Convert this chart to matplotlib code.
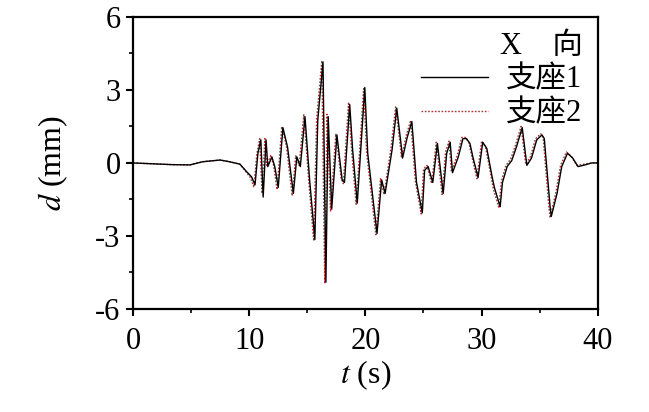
import matplotlib
matplotlib.use("Agg")
import matplotlib.pyplot as plt
from matplotlib import ticker

plt.rcParams['font.family'] = ['Liberation Serif', 'Noto Sans CJK SC']
plt.rcParams['mathtext.fontset'] = 'stix'

# support 1 (solid black)
t1 = [0, 3.4, 4.9, 6.0, 7.5, 8.3, 9.2, 9.8, 10.2, 10.5, 10.75, 11.0, 11.2, 11.45, 11.6,
      11.95, 12.2, 12.5, 12.9, 13.3, 13.8, 14.1, 14.4, 14.8, 15.2, 15.65, 15.9, 16.35, 16.6,
      16.8, 17.1, 17.55, 18.0, 18.2, 18.65, 18.9, 19.3, 19.95, 20.2, 21.0, 21.4, 21.7, 22.3,
      22.7, 23.1, 23.2, 23.6, 24.0, 24.4, 24.9, 25.1, 25.4, 25.8, 26.2, 26.7, 27.0, 27.3,
      27.5, 28.0, 28.4, 28.7, 29.0, 29.25, 29.7, 30.1, 30.45, 30.9, 31.1, 31.6, 31.8, 32.2,
      32.6, 33.0, 33.5, 33.9, 34.3, 34.75, 35.2, 35.4, 35.9, 36.0, 36.5, 36.9, 37.4, 37.85,
      38.3, 38.9, 39.5, 40]
d1 = [0, -0.07, -0.08, 0.05, 0.12, 0.05, -0.05, -0.37, -0.57, -0.9, 0.4, 0.95, -1.4, 0.95,
      -0.15, 0.25, -0.15, -1.0, 1.45, 0.65, -1.25, 0.25, -0.15, 1.9, -0.7, -3.15, 1.75, 4.15,
      -4.9, 1.9, -1.9, 1.15, -0.7, -0.8, 2.4, 0.55, -1.65, 3.1, 0.4, -2.9, -0.7, -1.25, 0.55,
      2.25, 0.65, 0.2, 1.05, 1.7, -0.8, -2.05, -0.3, -0.15, -0.8, 0.8, -1.25, 0.4, 0.85,
      -0.4, 0.25, 1.0, 1.0, 0.8, 0.25, -0.6, 0.85, 0.6, -0.55, -1.0, -1.8, -0.8, -0.15,
      0.1, 0.65, 1.45, -0.1, 0.2, 0.95, 1.15, 1.0, -1.8, -2.2, -1.25, -0.15, 0.4, 0.2,
      -0.15, -0.08, 0, 0]

# support 2 (dotted red)
t2 = [0, 3.4, 4.9, 6.0, 7.5, 8.3, 9.2, 9.7, 10.1, 10.4, 10.65, 10.9, 11.1, 11.35, 11.5,
      11.85, 12.1, 12.4, 12.8, 13.2, 13.7, 14.0, 14.3, 14.7, 15.1, 15.55, 15.8, 16.25, 16.5,
      16.7, 17.0, 17.45, 17.9, 18.1, 18.55, 18.8, 19.2, 19.85, 20.1, 20.9, 21.3, 21.6, 22.2,
      22.6, 23.0, 23.1, 23.5, 23.9, 24.3, 24.8, 25.0, 25.3, 25.7, 26.1, 26.6, 26.9, 27.2,
      27.4, 27.9, 28.3, 28.6, 28.9, 29.15, 29.6, 30.0, 30.35, 30.8, 31.0, 31.5, 31.7, 32.1,
      32.5, 32.9, 33.4, 33.8, 34.2, 34.65, 35.1, 35.3, 35.8, 35.9, 36.4, 36.8, 37.3, 37.75,
      38.2, 38.8, 39.5, 40]
d2 = [0, -0.07, -0.08, 0.05, 0.12, 0.05, -0.05, -0.35, -0.6, -1.0, 0.35, 1.0, -1.25, 1.0,
      -0.1, 0.3, -0.1, -1.1, 1.5, 0.7, -1.35, 0.3, -0.1, 2.0, -0.6, -3.2, 1.8, 4.2,
      -4.95, 2.0, -2.0, 1.2, -0.6, -0.85, 2.5, 0.6, -1.7, 3.05, 0.45, -2.95, -0.65, -1.3, 0.6,
      2.3, 0.7, 0.25, 1.1, 1.75, -0.75, -2.1, -0.25, -0.1, -0.85, 0.85, -1.3, 0.45, 0.9,
      -0.35, 0.3, 1.05, 1.05, 0.85, 0.3, -0.65, 0.9, 0.65, -0.5, -1.05, -1.85, -0.75, -0.1,
      0.15, 0.7, 1.5, -0.05, 0.25, 1.0, 1.2, 1.05, -1.85, -2.25, -1.2, -0.1, 0.45, 0.25,
      -0.1, -0.05, 0, 0]

xticks = [0, 10, 20, 30, 40]
yticks = [-6, -3, 0, 3, 6]

fig = plt.figure(figsize=(6.49, 4.12), dpi=100)
ax = fig.add_axes([0.205, 0.250, 0.716, 0.709])

ax.plot(t2, d2, color="#a83434", lw=1.0, ls=(0, (1.2, 1.2)), label="支座2", zorder=2)
ax.plot(t1, d1, color="black", lw=1.0, label="支座1", zorder=3)

ax.set_xlim(0, 40)
ax.set_ylim(-6, 6)
ax.set_xticks(xticks)
ax.set_yticks(yticks)
ax.set_yticklabels(["-6", "-3", "0", "3", "6"])
ax.xaxis.set_minor_locator(ticker.MultipleLocator(5))
ax.yaxis.set_minor_locator(ticker.MultipleLocator(1.5))
ax.tick_params(which="major", direction="out", length=5, width=1.5, labelsize=22)
ax.tick_params(axis="x", which="major", pad=8)
ax.tick_params(axis="y", which="major", pad=4)
ax.tick_params(which="minor", direction="out", length=3, width=1.2)
for s in ax.spines.values():
    s.set_linewidth(1.6)

ax.set_xlabel(r"$t$ (s)", fontsize=23, labelpad=2)
ax.set_ylabel(r"$d$ (mm)", fontsize=23, labelpad=18)

h, l = ax.get_legend_handles_labels()
leg = ax.legend(h[::-1], l[::-1], title="X    向", loc="upper right", frameon=False,
                fontsize=22, title_fontsize=22, handlelength=2.2, handletextpad=0.6,
                labelspacing=0.15, borderaxespad=0.1, bbox_to_anchor=(1.0, 1.0),
                alignment="right")

fig.savefig("out.png", dpi=100)
